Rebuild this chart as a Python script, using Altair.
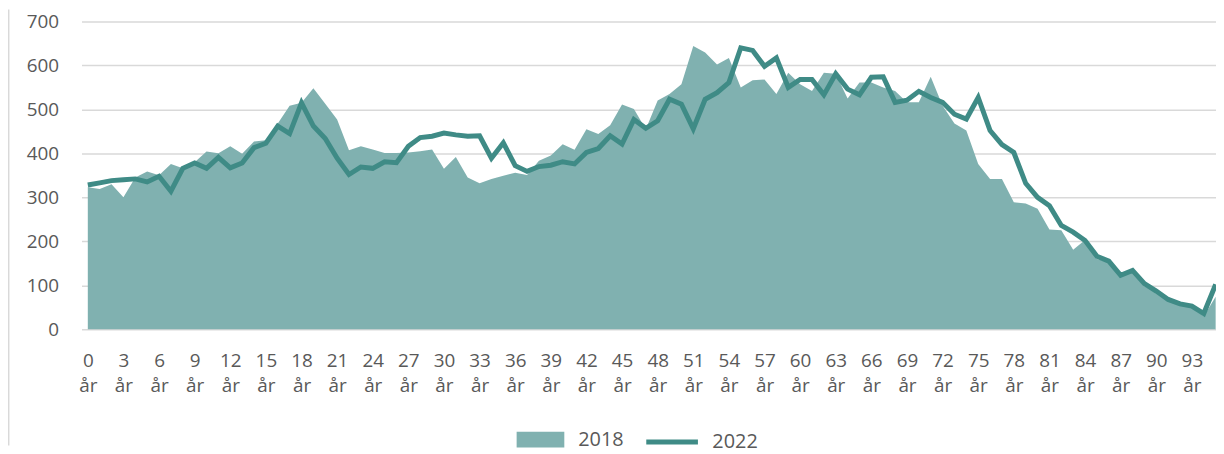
import altair as alt
import pandas as pd

ages = list(range(96))
tick_ages = list(range(0, 94, 3))
y_ticks = list(range(0, 701, 100))

v2018 = [323, 319, 330, 300, 345, 359, 350, 376, 366, 380,
         404, 400, 416, 399, 427, 430, 468, 508, 515, 548,
         513, 477, 407, 416, 409, 401, 401, 402, 405, 409,
         365, 392, 345, 332, 342, 349, 356, 351, 383, 395,
         421, 408, 455, 444, 464, 511, 501, 455, 520, 535,
         557, 644, 629, 602, 617, 550, 566, 568, 535, 583,
         557, 542, 583, 581, 525, 561, 561, 550, 542, 516,
         516, 574, 508, 468, 452, 376, 342, 342, 289, 286,
         274, 227, 225, 181, 203, 160, 153, 123, 130, 98,
         85, 65, 57, 51, 30, 74]

v2022 = [328, 333, 338, 340, 342, 335, 348, 314, 366, 378,
         366, 391, 367, 378, 413, 423, 462, 445, 515, 462,
         434, 389, 352, 369, 366, 381, 379, 416, 436, 439,
         446, 442, 439, 440, 389, 424, 372, 359, 370, 373,
         381, 376, 402, 411, 440, 421, 477, 457, 474, 523,
         512, 456, 523, 538, 561, 640, 634, 598, 617, 550,
         568, 568, 533, 581, 546, 533, 573, 574, 516, 521,
         541, 527, 516, 489, 478, 527, 452, 420, 402, 332,
         300, 281, 236, 221, 202, 166, 155, 123, 134, 104,
         87, 68, 58, 53, 36, 102]

series_area = ["2018"] * len(ages)
series_line = ["2022"] * len(ages)

df_area = pd.DataFrame({"age": ages, "value": v2018, "series": series_area})
df_line = pd.DataFrame({"age": ages, "value": v2022, "series": series_line})

AREA_COLOR = "#80B1B0"
LINE_COLOR = "#3F8B86"
TEXT_COLOR = "#595959"
GRID_COLOR = "#D9D9D9"
FONT = "Open Sans"

x_scale = alt.Scale(domain=[-0.53, 95.03], nice=False, zero=False)
y_scale = alt.Scale(domain=[0, 700], nice=False)

x_axis = alt.Axis(values=tick_ages, labelExpr="[format(datum.value, 'd'), 'år']",
                  grid=False, domain=False, ticks=False, tickSize=0,
                  labelFont=FONT, labelFontSize=19, labelColor=TEXT_COLOR,
                  labelPadding=22, labelLineHeight=26, labelFlush=False,
                  labelOverlap=False, labelBound=False, title=None)
y_axis = alt.Axis(values=y_ticks, grid=True, gridColor=GRID_COLOR, gridWidth=1.5,
                  domain=False, ticks=False, tickSize=0,
                  labelFont=FONT, labelFontSize=19, labelColor=TEXT_COLOR,
                  labelPadding=23, title=None)

area = alt.Chart(df_area).mark_area(opacity=1).encode(
    x=alt.X("age:Q", scale=x_scale, axis=x_axis),
    y=alt.Y("value:Q", scale=y_scale, axis=y_axis),
    fill=alt.Fill("series:N", scale=alt.Scale(domain=["2018"], range=[AREA_COLOR]),
                  legend=alt.Legend(title=None, orient="none", legendX=438, legendY=397,
                                    symbolType="M-1,-0.33H1V0.33H-1Z", symbolSize=2304,
                                    symbolStrokeWidth=0, symbolOpacity=1,
                                    labelFont=FONT, labelFontSize=20, labelColor=TEXT_COLOR,
                                    labelOffset=14, padding=0)),
)

line = alt.Chart(df_line).mark_line(strokeWidth=5).encode(
    x=alt.X("age:Q", scale=x_scale, axis=x_axis),
    y=alt.Y("value:Q", scale=y_scale, axis=y_axis),
    stroke=alt.Stroke("series:N", scale=alt.Scale(domain=["2022"], range=[LINE_COLOR]),
                      legend=alt.Legend(title=None, orient="none", legendX=566, legendY=395,
                                        symbolType="stroke", symbolSize=2704,
                                        symbolStrokeWidth=5,
                                        labelFont=FONT, labelFontSize=20, labelColor=TEXT_COLOR,
                                        labelOffset=12, padding=0)),
)

border = alt.Chart(pd.DataFrame({"k": [0]})).mark_rule(color=GRID_COLOR, strokeWidth=1.5).encode(
    x=alt.value(-73.3), y=alt.value(-12), y2=alt.value(427)
)

chart = alt.layer(area, line, border).resolve_scale(fill="independent", stroke="independent").properties(
    width=1142, height=310,
    autosize=alt.AutoSizeParams(type="none"),
    padding={"left": 74, "top": 12, "right": 0, "bottom": 124},
).configure_view(stroke=None)

chart.save("out.html", embed_options={"renderer": "svg", "actions": False})
